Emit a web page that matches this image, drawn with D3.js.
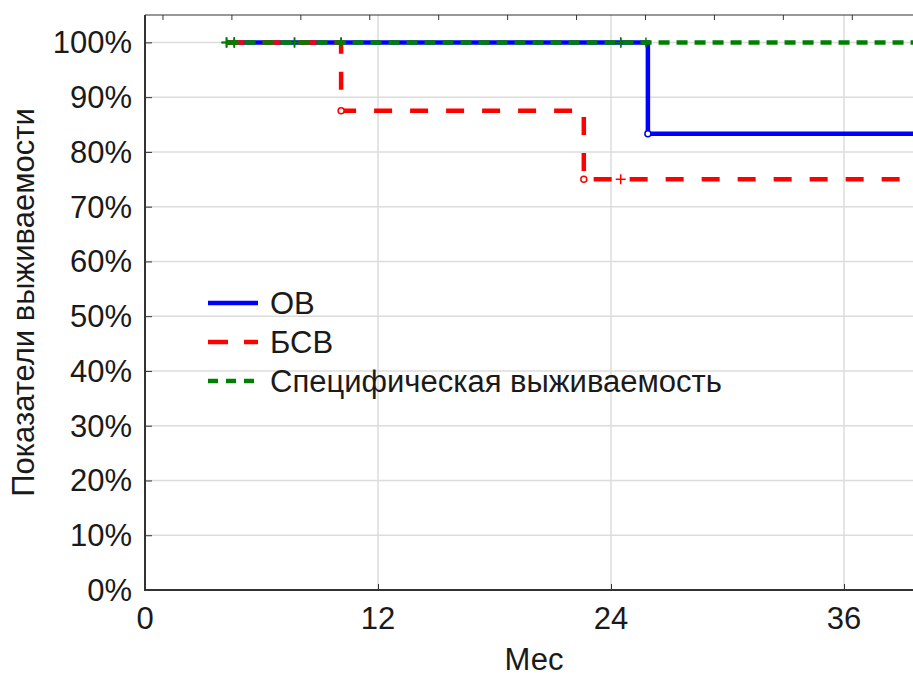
<!DOCTYPE html>
<html>
<head>
<meta charset="utf-8">
<script src="https://cdn.jsdelivr.net/npm/d3@7"></script>
<style>
  body { margin: 0; background: #fff; }
  text { font-family: "Liberation Sans", Arial, sans-serif; fill: #1a1a1a; }
</style>
</head>
<body>
<div id="chart"></div>
<script>
// data (months, survival %)
const ovTime = [4.2, 25.9, 42];
const ovSurv = [100, 83.3, 83.3];
const bsvTime = [4.2, 10.1, 22.6, 42];
const bsvSurv = [100, 87.5, 75, 75];
const specTime = [4.2, 42];
const specSurv = [100, 100];

// censored observations
const ovCensor = [4.2, 4.6, 7.7, 10.1, 24.5];
const bsvCensor = [4.2, 4.6, 24.5];
const specCensor = [4.2, 4.6, 7.7, 10.1, 24.5, 25.8];

const xTicks = [0, 12, 24, 36];
const yTicks = [0, 10, 20, 30, 40, 50, 60, 70, 80, 90, 100];
const topTicks = [0.9, 4.45, 8.0, 11.55, 15.1, 18.65, 22.2, 25.75, 29.3, 32.85, 36.4, 39.95];

const legendItems = ["ОВ", "БСВ", "Специфическая выживаемость"];

const W = 913, H = 677;
const margin = { left: 145, top: 15, bottom: 87 };
const pxPerMonth = 233 / 12;
const fs = 31;

const svg = d3.select("#chart").append("svg")
  .attr("width", W)
  .attr("height", H);

const x = d3.scaleLinear().domain([0, 48]).range([margin.left, margin.left + pxPerMonth * 48]);
const y = d3.scaleLinear().domain([0, 105]).range([H - margin.bottom, margin.top]);

// grid
svg.append("g")
  .selectAll("line")
  .data(yTicks)
  .join("line")
  .attr("x1", margin.left).attr("x2", W)
  .attr("y1", d => y(d)).attr("y2", d => y(d))
  .attr("stroke", "#dcdcdc").attr("stroke-width", 1.5);

svg.append("g")
  .selectAll("line")
  .data(xTicks.slice(1))
  .join("line")
  .attr("x1", d => x(d)).attr("x2", d => x(d))
  .attr("y1", y(0)).attr("y2", y(105))
  .attr("stroke", "#dcdcdc").attr("stroke-width", 1.5);

// axes
const yAxis = svg.append("g")
  .attr("transform", `translate(${margin.left},0)`)
  .call(d3.axisRight(y).tickValues(yTicks).tickSize(7).tickFormat(""));
yAxis.select(".domain").remove();
yAxis.selectAll(".tick line").attr("stroke", "#333");

const xAxis = svg.append("g")
  .attr("transform", `translate(0,${y(0)})`)
  .call(d3.axisTop(x).tickValues(xTicks).tickSize(6).tickFormat(""));
xAxis.select(".domain").remove();
xAxis.selectAll(".tick line").attr("stroke", "#333");

const topAxis = svg.append("g")
  .attr("transform", `translate(0,${y(105)})`)
  .call(d3.axisBottom(x).tickValues(topTicks).tickSize(5).tickFormat(""));
topAxis.select(".domain").remove();
topAxis.selectAll(".tick line").attr("stroke", "#333");

svg.append("line")
  .attr("x1", margin.left).attr("x2", W)
  .attr("y1", y(105)).attr("y2", y(105))
  .attr("stroke", "#333").attr("stroke-width", 1.2);
svg.append("line")
  .attr("x1", margin.left).attr("x2", W)
  .attr("y1", y(0)).attr("y2", y(0))
  .attr("stroke", "#333").attr("stroke-width", 2);
svg.append("line")
  .attr("x1", margin.left).attr("x2", margin.left)
  .attr("y1", y(0) + 1).attr("y2", y(105))
  .attr("stroke", "#333").attr("stroke-width", 2);

// tick labels
svg.append("g")
  .selectAll("text")
  .data(yTicks)
  .join("text")
  .attr("x", 132)
  .attr("y", d => y(d) + 11)
  .attr("text-anchor", "end")
  .attr("font-size", fs)
  .text(d => d + "%");

svg.append("g")
  .selectAll("text")
  .data(xTicks)
  .join("text")
  .attr("x", d => x(d))
  .attr("y", 629)
  .attr("text-anchor", "middle")
  .attr("font-size", fs)
  .text(d => d);

svg.append("text")
  .attr("x", 534).attr("y", 670)
  .attr("text-anchor", "middle")
  .attr("font-size", fs)
  .text("Мес");

svg.append("text")
  .attr("transform", `translate(34,${(y(0) + y(105)) / 2}) rotate(-90)`)
  .attr("text-anchor", "middle")
  .attr("font-size", fs)
  .text("Показатели выживаемости");

// curves
const step = d3.line()
  .x(d => x(d[0]))
  .y(d => y(d[1]))
  .curve(d3.curveStepAfter);

const series = [
  { name: legendItems[0], time: ovTime, surv: ovSurv, color: "#0000ff", dash: null, censor: ovCensor },
  { name: legendItems[1], time: bsvTime, surv: bsvSurv, color: "#ff0000", dash: "18,18", censor: bsvCensor },
  { name: legendItems[2], time: specTime, surv: specSurv, color: "#008000", dash: "11,7", censor: specCensor }
];

// survival at time t for a series
function survAt(s, t) {
  let v = s.surv[0];
  s.time.forEach((tt, i) => { if (tt <= t) v = s.surv[i]; });
  return v;
}

series.forEach(s => {
  const pts = s.time.map((t, i) => [t, s.surv[i]]);
  svg.append("path")
    .attr("d", step(pts))
    .attr("fill", "none")
    .attr("stroke", s.color)
    .attr("stroke-width", 4.5)
    .attr("stroke-dasharray", s.dash);

  // event markers (bottom of each drop)
  svg.append("g")
    .selectAll("circle")
    .data(pts.slice(1, -1))
    .join("circle")
    .attr("cx", d => x(d[0]))
    .attr("cy", d => y(d[1]))
    .attr("r", 3)
    .attr("fill", "#fff")
    .attr("stroke", s.color)
    .attr("stroke-width", 1.5);

  // censor marks
  svg.append("g")
    .selectAll("path")
    .data(s.censor)
    .join("path")
    .attr("d", d => {
      const cx = x(d), cy = y(survAt(s, d));
      return `M${cx - 5},${cy}H${cx + 5}M${cx},${cy - 5}V${cy + 5}`;
    })
    .attr("stroke", s.color)
    .attr("stroke-width", 1.5);
});

// legend
const legend = svg.append("g");
series.forEach((s, i) => {
  const ly = 303 + i * 39;
  legend.append("line")
    .attr("x1", 208).attr("x2", 258)
    .attr("y1", ly).attr("y2", ly)
    .attr("stroke", s.color)
    .attr("stroke-width", 4.5)
    .attr("stroke-dasharray", i === 1 ? "20,16" : i === 2 ? "10,8" : null);
  legend.append("text")
    .attr("x", 270).attr("y", ly + 11)
    .attr("font-size", fs)
    .text(s.name);
});
</script>
</body>
</html>
